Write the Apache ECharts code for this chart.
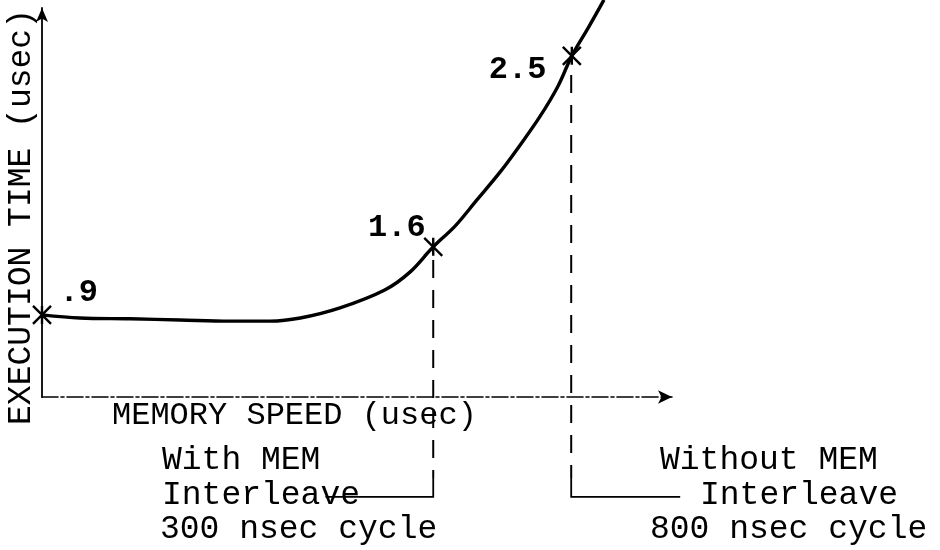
<!DOCTYPE html>
<html>
<head>
<meta charset="utf-8">
<script src="https://cdn.jsdelivr.net/npm/echarts@6/dist/echarts.min.js"></script>
<style>
html,body{margin:0;padding:0;background:#fff;}
#chart{width:940px;height:550px;}
</style>
</head>
<body>
<div id="chart"></div>
<script>
// Curve (normalized units: x 0..100 memory speed, y 0..100 execution time)
const curveX = [0, 6.0, 14.0, 21.9, 29.8, 36.2, 41.0, 47.3, 54.4, 58.4, 62.1, 65.6, 69.0, 72.7, 75.9, 79.0, 81.9, 84.1, 86.7, 89.2];
const curveY = [21.1, 20.3, 20.1, 19.8, 19.5, 19.5, 20.3, 22.9, 27.5, 32.1, 38.6, 44.0, 50.6, 57.8, 64.8, 72.0, 79.9, 87.7, 94.9, 102.1];

// Marked points and their labels
const markerX = [0, 62.1, 84.1];
const markerY = [21.1, 38.6, 87.7];
const markerLabels = ['.9', '1.6', '2.5'];

// Guide lines (dashed drops) and bracket arrows
const guideX = [62.1, 84.0];
const guideTop = [35.2, 82.8];
const guideBottom = -20.8;
const bracketY = -25.7;
const arrowEndX = [45.0, 101.3];

// Annotation texts
const yTitle = 'EXECUTION TIME (usec)';
const xTitle = 'MEMORY SPEED (usec)';
const leftNote = ['With MEM', 'Interleave', '300 nsec cycle'];
const rightNote = ['Without MEM', 'Interleave', '800 nsec cycle'];

const FONT = '"Liberation Mono", "DejaVu Sans Mono", monospace';
const INK = '#000';

const chart = echarts.init(document.getElementById('chart'));

const curveData = curveX.map((x, i) => [x, curveY[i]]);
const labelCfg = [
  {position: 'right', distance: 6, offset: [0, -22]},
  {position: 'left', distance: 0, offset: [4, -19]},
  {position: 'left', distance: 14, offset: [0, 14]}
];
const markerData = markerX.map((x, i) => ({
  value: [x, markerY[i]],
  label: Object.assign({show: true, formatter: markerLabels[i], color: INK,
    fontFamily: FONT, fontSize: 32, fontWeight: 'bold'}, labelCfg[i])
}));
const guideData = guideX.map((x, i) => ({coords: [[x, guideTop[i]], [x, guideBottom]]}));
const bracketData = guideX.map((x, i) => ({coords: [[x, guideBottom], [x, bracketY], [arrowEndX[i], bracketY]]}));

const txt = (s, x, y, size) => ({
  type: 'text', x: x, y: y,
  style: {text: s, font: (size || 33) + 'px ' + FONT, fill: INK, textVerticalAlign: 'middle'}
});

const graphics = [
  {type: 'text', x: 21, y: 217, rotation: Math.PI / 2,
   style: {text: yTitle, font: '33px ' + FONT, fill: INK, textAlign: 'center', textVerticalAlign: 'middle'}},
  txt(xTitle, 112, 416, 32)
];
const rowY = [460, 495, 529];
const leftX = [162, 162, 160];
leftNote.forEach((s, i) => graphics.push(txt(s, leftX[i], rowY[i])));
const rightX = [660, 700, 650];
rightNote.forEach((s, i) => graphics.push(txt(s, rightX[i], rowY[i])));

chart.setOption({
  animation: false,
  backgroundColor: '#fff',
  grid: {left: 42, right: 268, top: 8, bottom: 153, containLabel: false},
  xAxis: {
    type: 'value', min: 0, max: 100,
    axisLine: {show: true, symbol: ['none', 'arrow'], symbolSize: [10, 14],
      lineStyle: {color: INK, width: 1.6, type: [16, 3, 3, 3]}},
    axisTick: {show: false}, axisLabel: {show: false}, splitLine: {show: false}
  },
  yAxis: {
    type: 'value', min: 0, max: 100,
    axisLine: {show: true, symbol: ['none', 'arrow'], symbolSize: [9, 14],
      lineStyle: {color: INK, width: 1.8}},
    axisTick: {show: false}, axisLabel: {show: false}, splitLine: {show: false}
  },
  series: [
    {
      type: 'line', data: curveData, smooth: 0.35, showSymbol: false, clip: false,
      lineStyle: {color: INK, width: 3.4}, z: 3
    },
    {
      type: 'lines', coordinateSystem: 'cartesian2d', polyline: true, clip: false,
      data: guideData, symbol: 'none',
      lineStyle: {color: INK, width: 2, type: [18, 12], opacity: 1}
    },
    {
      type: 'lines', coordinateSystem: 'cartesian2d', polyline: true, clip: false,
      data: bracketData, symbol: ['none', 'arrow'], symbolSize: 11,
      lineStyle: {color: INK, width: 1.8, opacity: 1}
    },
    {
      type: 'scatter', data: markerData, clip: false, z: 4,
      symbol: 'path://M0,0L20,20M20,0L0,20M10,0L10,20', symbolSize: 18,
      itemStyle: {color: 'none', borderColor: INK, borderWidth: 2.4, opacity: 1},
      emphasis: {disabled: true}
    }
  ],
  graphic: graphics
});
</script>
</body>
</html>
